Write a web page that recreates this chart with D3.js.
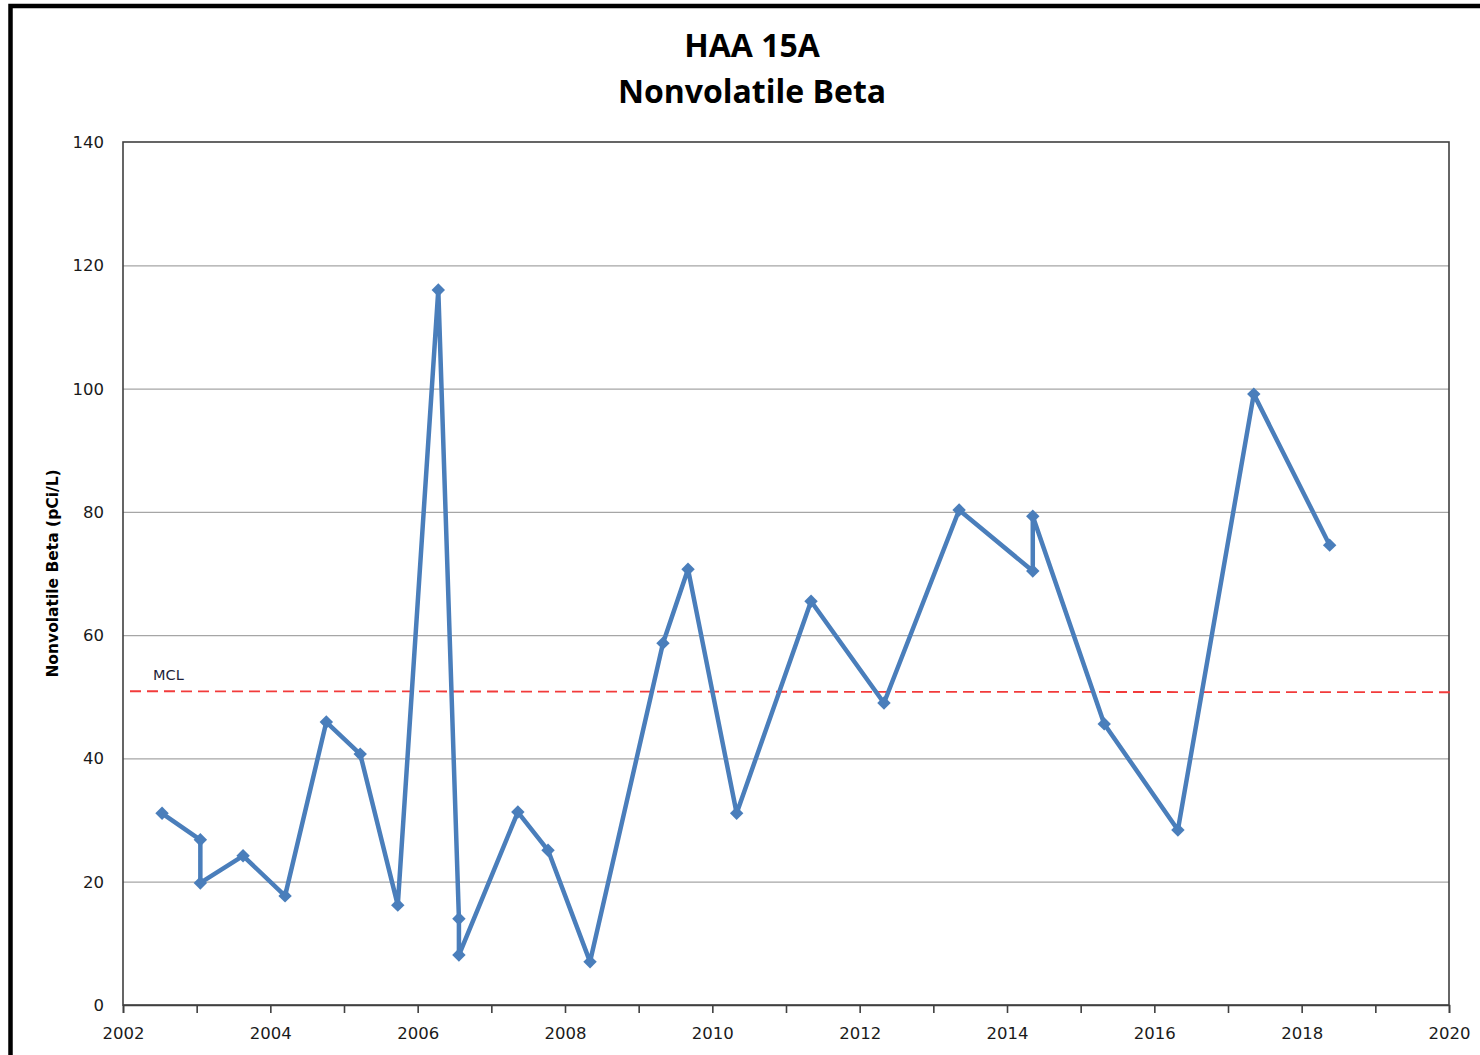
<!DOCTYPE html>
<html>
<head>
<meta charset="utf-8">
<script src="https://cdn.jsdelivr.net/npm/d3@7"></script>
<style>
  html, body { margin: 0; padding: 0; background: #fff; }
  svg { display: block; }
</style>
</head>
<body>
<div id="chart"></div>
<script>
// sample dates as decimal years, and measured values (pCi/L)
const years = [2002.53, 2003.05, 2003.05, 2003.63, 2004.2, 2004.76, 2005.22, 2005.73,
  2006.28, 2006.56, 2006.56, 2007.36, 2007.77, 2008.34, 2009.33, 2009.67, 2010.33,
  2011.34, 2012.33, 2013.35, 2014.35, 2014.35, 2015.32, 2016.32, 2017.35, 2018.38]
const values = [31.1, 26.8, 19.8, 24.2, 17.7, 45.9, 40.7, 16.2,
  116.0, 14.0, 8.1, 31.3, 25.1, 7.0, 58.7, 70.7, 31.1,
  65.5, 49.0, 80.3, 70.4, 79.3, 45.6, 28.4, 99.1, 74.6]
const mcl = 50.9
const xTicks = [2002, 2004, 2006, 2008, 2010, 2012, 2014, 2016, 2018, 2020]
const yTicks = [0, 20, 40, 60, 80, 100, 120, 140]
const titleLines = ['HAA 15A', 'Nonvolatile Beta']

const width = 1480, height = 1055
const m = {left: 123, right: 31, top: 142, bottom: 50}
const font = '"DejaVu Sans", Verdana, sans-serif'

const svg = d3.select('#chart').append('svg')
  .attr('width', width)
  .attr('height', height)

// outer chart frame (cut off on the right and bottom)
svg.append('rect')
  .attr('x', 10.5).attr('y', 6)
  .attr('width', 1500).attr('height', 1100)
  .attr('fill', 'none')
  .attr('stroke', '#000')
  .attr('stroke-width', 4.5)

const x = d3.scaleLinear().domain([2002, 2020]).range([m.left, width - m.right])
const y = d3.scaleLinear().domain([0, 140]).range([height - m.bottom, m.top])

// gridlines
svg.append('g')
  .selectAll('line')
  .data(yTicks.slice(1, -1))
  .join('line')
    .attr('x1', x(2002)).attr('x2', x(2020))
    .attr('y1', d => y(d) + 0.5).attr('y2', d => y(d) + 0.5)
    .attr('stroke', '#a6a6a6')
    .attr('stroke-width', 1.3)

// plot border
svg.append('rect')
  .attr('x', x(2002)).attr('y', y(140))
  .attr('width', x(2020) - x(2002))
  .attr('height', y(0) - y(140))
  .attr('fill', 'none')
  .attr('stroke', '#404040')
  .attr('stroke-width', 1.6)

// x axis
const xAxis = svg.append('g')
  .attr('transform', `translate(0,${y(0)})`)
  .call(d3.axisBottom(x).tickValues(d3.range(2002, 2021)).tickSize(8)
    .tickFormat(d => xTicks.includes(d) ? d : ''))
xAxis.select('.domain').attr('stroke', '#404040').attr('stroke-width', 1.6)
xAxis.selectAll('.tick line').attr('stroke', '#404040').attr('stroke-width', 1.6)
xAxis.selectAll('.tick text')
  .attr('dy', '1.4em')
  .attr('fill', '#1a1a1a')
  .style('font-family', font)
  .style('font-size', '16.5px')

// y axis
const yAxis = svg.append('g')
  .attr('transform', `translate(${x(2002)},0)`)
  .call(d3.axisLeft(y).tickValues(yTicks).tickSize(0).tickPadding(19))
yAxis.select('.domain').remove()
yAxis.selectAll('.tick text')
  .attr('dy', '0.33em')
  .attr('fill', '#1a1a1a')
  .style('font-family', font)
  .style('font-size', '16.5px')

// titles
svg.append('g').selectAll('text')
  .data(titleLines)
  .join('text')
    .attr('x', 752)
    .attr('y', (d, i) => 57 + i * 46)
    .attr('text-anchor', 'middle')
    .style('font-family', '"Open Sans", "Noto Sans", sans-serif')
    .style('font-weight', 'bold')
    .style('font-size', '32px')
    .attr('fill', '#000')
    .text(d => d)

svg.append('text')
  .attr('transform', `translate(58,${(y(0) + y(140)) / 2}) rotate(-90)`)
  .attr('text-anchor', 'middle')
  .style('font-family', font)
  .style('font-weight', 'bold')
  .style('font-size', '15.5px')
  .attr('fill', '#000')
  .text('Nonvolatile Beta (pCi/L)')

// MCL line
svg.append('line')
  .attr('x1', 130).attr('x2', 1452)
  .attr('y1', y(mcl)).attr('y2', y(mcl) + 1)
  .attr('stroke', '#f23b3b')
  .attr('stroke-width', 1.8)
  .attr('stroke-dasharray', '11,6')

svg.append('text')
  .attr('x', 153).attr('y', y(mcl) - 11)
  .style('font-family', font)
  .style('font-size', '14.5px')
  .attr('fill', '#1f1f3a')
  .text('MCL')

// data line
const pts = years.map((yr, i) => [yr, values[i]])
svg.append('path')
  .datum(pts)
  .attr('fill', 'none')
  .attr('stroke', '#4a7ebb')
  .attr('stroke-width', 4.5)
  .attr('stroke-linejoin', 'round')
  .attr('d', d3.line().x(d => x(d[0])).y(d => y(d[1])))

svg.append('g').selectAll('path')
  .data(pts)
  .join('path')
    .attr('transform', d => `translate(${x(d[0])},${y(d[1])})`)
    .attr('d', d3.symbol(d3.symbolDiamond2, 115))
    .attr('fill', '#4a7ebb')
</script>
</body>
</html>
